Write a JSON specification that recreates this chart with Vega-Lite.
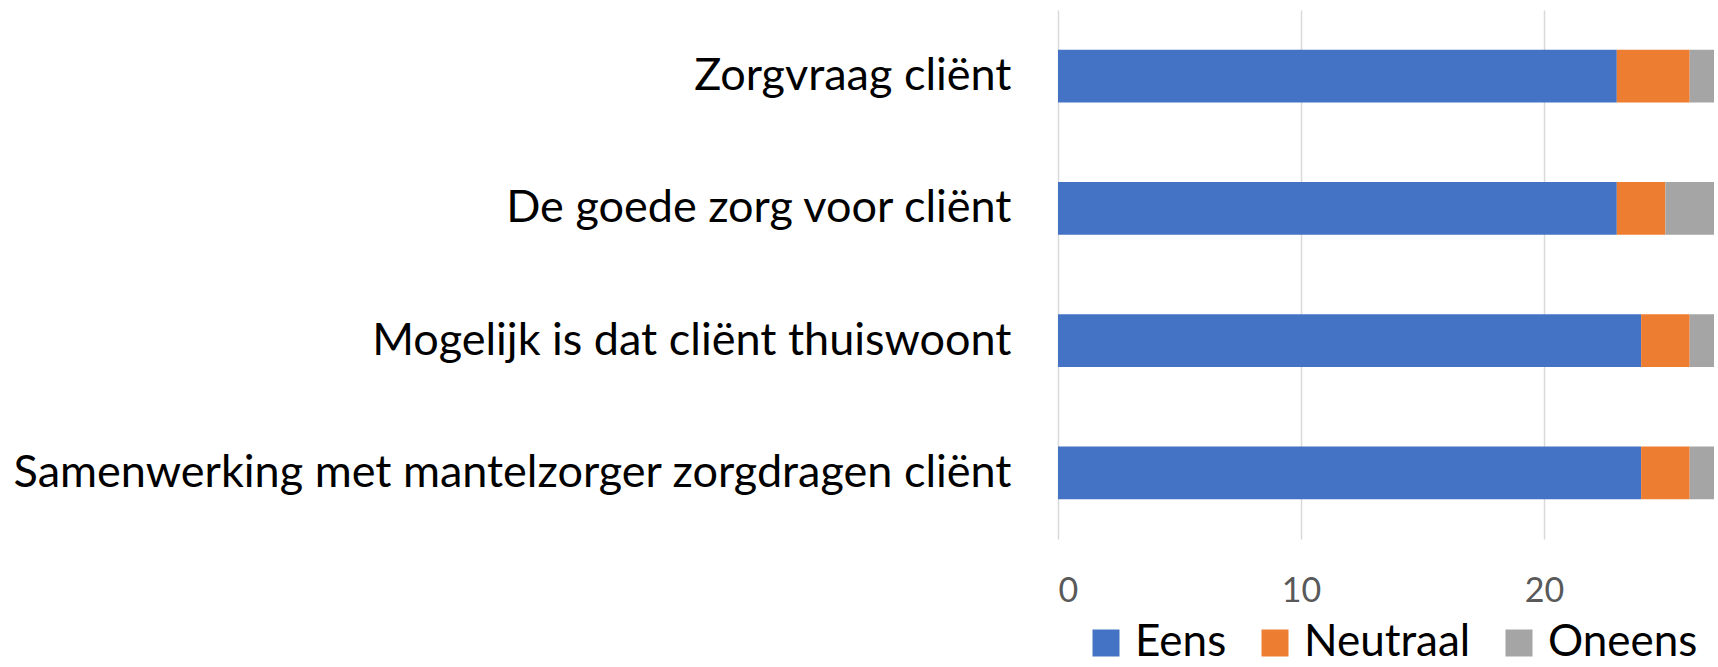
{
  "$schema": "https://vega.github.io/schema/vega-lite/v6.json",
  "width": 656,
  "height": 529,
  "autosize": {"type": "none"},
  "padding": {"left": 1058, "top": 10, "right": 4, "bottom": 128},
  "config": {"view": {"stroke": null}, "font": "Lato"},
  "data": {
    "values": [
      {"item": "Zorgvraag cliënt", "resp": "Eens", "n": 23, "o": 1},
      {"item": "Zorgvraag cliënt", "resp": "Neutraal", "n": 3, "o": 2},
      {"item": "Zorgvraag cliënt", "resp": "Oneens", "n": 1, "o": 3},
      {"item": "De goede zorg voor cliënt", "resp": "Eens", "n": 23, "o": 1},
      {"item": "De goede zorg voor cliënt", "resp": "Neutraal", "n": 2, "o": 2},
      {"item": "De goede zorg voor cliënt", "resp": "Oneens", "n": 2, "o": 3},
      {"item": "Mogelijk is dat cliënt thuiswoont", "resp": "Eens", "n": 24, "o": 1},
      {"item": "Mogelijk is dat cliënt thuiswoont", "resp": "Neutraal", "n": 2, "o": 2},
      {"item": "Mogelijk is dat cliënt thuiswoont", "resp": "Oneens", "n": 1, "o": 3},
      {"item": "Samenwerking met mantelzorger zorgdragen cliënt", "resp": "Eens", "n": 24, "o": 1},
      {"item": "Samenwerking met mantelzorger zorgdragen cliënt", "resp": "Neutraal", "n": 2, "o": 2},
      {"item": "Samenwerking met mantelzorger zorgdragen cliënt", "resp": "Oneens", "n": 1, "o": 3}
    ]
  },
  "mark": {"type": "bar"},
  "encoding": {
    "y": {
      "field": "item",
      "type": "nominal",
      "sort": ["Zorgvraag cliënt", "De goede zorg voor cliënt", "Mogelijk is dat cliënt thuiswoont", "Samenwerking met mantelzorger zorgdragen cliënt"],
      "scale": {"paddingInner": 0.6, "paddingOuter": 0.3},
      "axis": {"title": null, "domain": false, "ticks": false, "labelFontSize": 45, "labelColor": "#000000", "labelPadding": 47, "labelLimit": 1100, "labelFont": "Lato"}
    },
    "x": {
      "field": "n",
      "type": "quantitative",
      "stack": "zero",
      "scale": {"domain": [0, 27], "nice": false},
      "axis": {"title": null, "values": [0, 10, 20], "domain": false, "ticks": false, "grid": true, "gridColor": "#d9d9d9", "gridWidth": 1.5, "labelFontSize": 34, "labelColor": "#595959", "labelPadding": 35, "labelFont": "Lato"}
    },
    "color": {
      "field": "resp",
      "type": "nominal",
      "scale": {"domain": ["Eens", "Neutraal", "Oneens"], "range": ["#4472C4", "#ED7D31", "#A5A5A5"]},
      "legend": {"title": null, "orient": "none", "direction": "horizontal", "legendX": 26, "legendY": 611, "symbolType": "square", "symbolSize": 729, "symbolStrokeWidth": 0, "labelFontSize": 44, "labelColor": "#000000", "labelOffset": 7, "columnPadding": 26, "labelLimit": 400, "labelFont": "Lato"}
    },
    "order": {"field": "o", "type": "quantitative"}
  }
}
